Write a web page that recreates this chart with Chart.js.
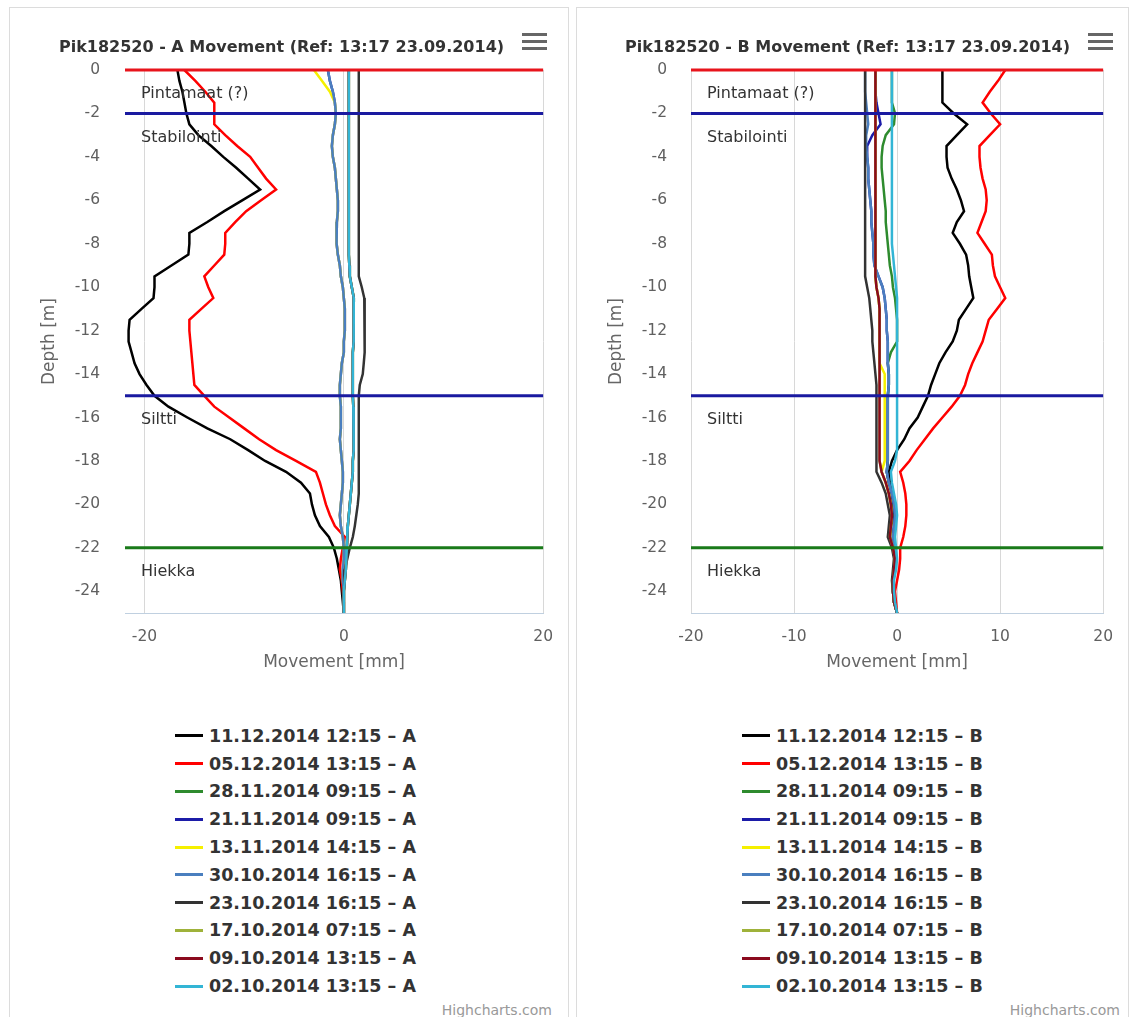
<!DOCTYPE html>
<html>
<head>
<meta charset="utf-8">
<title>Pik182520 Movement</title>
<script src="https://cdn.jsdelivr.net/npm/chart.js@4.4.1/dist/chart.umd.min.js"></script>
<style>
  html, body { margin: 0; padding: 0; background: #fff; }
  body { width: 1134px; height: 1017px; overflow: hidden; position: relative; font-family: 'DejaVu Sans', sans-serif; }
  .panel { position: absolute; top: 7px; height: 1030px; border: 1px solid #dcdcdc; box-sizing: border-box; background: #fff; }
  #panelA { left: 9px; width: 560px; }
  #panelB { left: 576px; width: 553px; }
  .panel canvas { position: absolute; left: 0; top: 0; }
  .menu { position: absolute; top: 25px; left: 512px; width: 25px; }
  .menu span { display: block; height: 3px; background: #666; margin-bottom: 4px; }
  .legend { position: absolute; top: 714px; left: 165px; }
  .legend-item { display: flex; align-items: center; height: 27.8px; }
  .legend-swatch { width: 28px; height: 3px; margin-right: 6px; }
  .legend-text { font-size: 17.5px; font-weight: bold; color: #333; white-space: nowrap; }
  .credits { position: absolute; top: 994px; font-size: 14px; color: #999; }
</style>
</head>
<body>

<div class="panel" id="panelA">
  <canvas id="grafikA" width="558" height="669"></canvas>
  <div class="menu"><span></span><span></span><span></span></div>
  <div class="legend" id="legendA"></div>
  <div class="credits" style="right:16px">Highcharts.com</div>
</div>

<div class="panel" id="panelB">
  <canvas id="grafikB" width="551" height="669"></canvas>
  <div class="menu" style="left:511px"><span></span><span></span><span></span></div>
  <div class="legend" id="legendB"></div>
  <div class="credits" style="right:8px">Highcharts.com</div>
</div>

<script>
// ---------------------------------------------------------------
// Data (depth step 0.5 m)
// ---------------------------------------------------------------
const depthM = [
  0, -0.5, -1, -1.5, -2, -2.5, -3, -3.5, -4, -4.5,
  -5, -5.5, -6, -6.5, -7, -7.5, -8, -8.5, -9, -9.5,
  -10, -10.5, -11, -11.5, -12, -12.5, -13, -13.5, -14, -14.5,
  -15, -15.5, -16, -16.5, -17, -17.5, -18, -18.5, -19, -19.5,
  -20, -20.5, -21, -21.5, -22, -22.5, -23, -23.5, -24, -24.5, -25
];
const depthTicks = [0, -2, -4, -6, -8, -10, -12, -14, -16, -18, -20, -22, -24];
const xTicksA = [-20, 0, 20];
const xTicksB = [-20, -10, 0, 10, 20];

const seriesDates = [
  '11.12.2014 12:15', '05.12.2014 13:15', '28.11.2014 09:15', '21.11.2014 09:15', '13.11.2014 14:15',
  '30.10.2014 16:15', '23.10.2014 16:15', '17.10.2014 07:15', '09.10.2014 13:15', '02.10.2014 13:15'
];

// soil layers (plot lines)
const layerDepths = [0, -2, -15, -22];
const layerNames = ['Pintamaat (?)', 'Stabilointi', 'Siltti', 'Hiekka'];

// ---- Probe A (movement mm) ----
const a1112 = [
  -16.7, -16.5, -16.2, -16.0, -15.8, -15.5, -14.6, -13.3, -12.1, -10.8,
  -9.6, -8.4, -10.2, -12.0, -13.7, -15.5, -15.5, -15.6, -17.3, -19.0,
  -19.0, -19.1, -20.3, -21.5, -21.6, -21.6, -21.3, -21.0, -20.5, -19.8,
  -19.0, -17.6, -15.7, -13.7, -11.4, -9.6, -7.9, -5.8, -4.3, -3.4,
  -3.2, -2.9, -2.4, -1.5, -1.0, -0.7, -0.5, -0.3, -0.2, -0.1, 0.0
];
const a0512 = [
  -16.0, -14.9, -13.9, -13.0, -13.0, -13.0, -11.9, -10.7, -9.4, -8.6,
  -7.8, -6.8, -8.3, -9.8, -10.9, -11.9, -11.9, -12.0, -13.0, -14.0,
  -13.6, -13.1, -14.3, -15.5, -15.5, -15.4, -15.3, -15.2, -15.1, -15.0,
  -14.0, -13.0, -11.5, -10.0, -8.5, -6.8, -4.8, -2.8, -2.4, -2.1,
  -1.8, -1.4, -0.9, 0.1, -0.1, -0.3, -0.4, -0.2, -0.1, 0.0, 0.0
];
const a2811 = [
  0.5, 0.5, 0.5, 0.5, 0.5, 0.5, 0.5, 0.5, 0.5, 0.5,
  0.5, 0.5, 0.5, 0.5, 0.5, 0.5, 0.5, 0.5, 0.55, 0.6,
  0.8, 1.0, 1.0, 1.0, 1.0, 0.95, 0.9, 0.9, 0.9, 0.9,
  0.9, 0.95, 1.0, 1.0, 1.0, 0.95, 0.9, 0.9, 0.8, 0.7,
  0.6, 0.5, 0.4, 0.35, 0.3, 0.25, 0.2, 0.1, 0.0, 0.0, 0.0
];
const a2111 = [
  -1.6, -1.4, -1.1, -0.9, -0.8, -0.9, -1.1, -1.2, -1.1, -0.9,
  -0.8, -0.7, -0.6, -0.6, -0.7, -0.75, -0.7, -0.6, -0.4, -0.3,
  -0.1, 0.0, 0.1, 0.1, 0.1, 0.0, 0.0, -0.2, -0.3, -0.4,
  -0.4, -0.3, -0.3, -0.3, -0.4, -0.3, -0.2, -0.1, -0.1, -0.2,
  -0.3, -0.4, -0.3, -0.1, 0.0, 0.0, -0.1, -0.1, 0.0, 0.0, 0.0
];
const a1311 = [
  -3.0, -2.2, -1.4, -0.9, -0.8, -0.9, -1.1, -1.2, -1.1, -0.9,
  -0.8, -0.7, -0.6, -0.6, -0.7, -0.75, -0.7, -0.6, -0.4, -0.3,
  -0.1, 0.0, 0.1, 0.1, 0.1, 0.0, 0.0, -0.2, -0.3, -0.4,
  -0.4, -0.3, -0.3, -0.3, -0.4, -0.3, -0.2, -0.1, -0.1, -0.2,
  -0.3, -0.4, -0.3, -0.1, 0.0, 0.0, -0.1, -0.1, 0.0, 0.0, 0.0
];
const a3010 = [
  -1.6, -1.4, -1.1, -0.9, -0.8, -0.9, -1.1, -1.2, -1.1, -0.9,
  -0.8, -0.7, -0.6, -0.6, -0.7, -0.75, -0.7, -0.6, -0.4, -0.3,
  -0.1, 0.0, 0.1, 0.1, 0.1, 0.0, 0.0, -0.2, -0.3, -0.4,
  -0.4, -0.3, -0.3, -0.3, -0.4, -0.3, -0.2, -0.1, -0.1, -0.2,
  -0.3, -0.4, -0.3, -0.1, 0.0, 0.0, -0.1, -0.1, 0.0, 0.0, 0.0
];
const a2310 = [
  1.5, 1.5, 1.5, 1.5, 1.5, 1.5, 1.5, 1.5, 1.5, 1.5,
  1.5, 1.5, 1.5, 1.5, 1.5, 1.5, 1.5, 1.5, 1.5, 1.5,
  1.8, 2.05, 2.1, 2.1, 2.1, 2.1, 2.05, 2.0, 1.9, 1.6,
  1.5, 1.5, 1.5, 1.5, 1.5, 1.5, 1.5, 1.5, 1.5, 1.5,
  1.4, 1.25, 1.1, 0.9, 0.6, 0.35, 0.1, 0.05, 0.0, 0.0, 0.0
];
const a1710 = [
  0.5, 0.5, 0.5, 0.5, 0.5, 0.5, 0.5, 0.5, 0.5, 0.5,
  0.5, 0.5, 0.5, 0.5, 0.5, 0.5, 0.5, 0.5, 0.55, 0.6,
  0.8, 1.0, 1.0, 1.0, 1.0, 0.95, 0.9, 0.9, 0.9, 0.9,
  0.9, 0.95, 1.0, 1.0, 1.0, 0.95, 0.9, 0.9, 0.8, 0.7,
  0.6, 0.5, 0.4, 0.35, 0.3, 0.25, 0.2, 0.1, 0.0, 0.0, 0.0
];
const a0910 = [
  0.5, 0.5, 0.5, 0.5, 0.5, 0.5, 0.5, 0.5, 0.5, 0.5,
  0.5, 0.5, 0.5, 0.5, 0.5, 0.5, 0.5, 0.5, 0.55, 0.6,
  0.8, 1.0, 1.0, 1.0, 1.0, 0.95, 0.9, 0.9, 0.9, 0.9,
  0.9, 0.95, 1.0, 1.0, 1.0, 0.95, 0.9, 0.9, 0.8, 0.7,
  0.6, 0.5, 0.4, 0.35, 0.3, 0.25, 0.2, 0.1, 0.0, 0.0, 0.0
];
const a0210 = [
  0.5, 0.5, 0.5, 0.5, 0.5, 0.5, 0.5, 0.5, 0.5, 0.5,
  0.5, 0.5, 0.5, 0.5, 0.5, 0.5, 0.5, 0.5, 0.55, 0.6,
  0.8, 1.0, 1.0, 1.0, 1.0, 0.95, 0.9, 0.9, 0.9, 0.9,
  0.9, 0.95, 1.0, 1.0, 1.0, 0.95, 0.9, 0.9, 0.8, 0.7,
  0.6, 0.5, 0.4, 0.35, 0.3, 0.25, 0.2, 0.1, 0.0, 0.0, 0.0
];

// ---- Probe B (movement mm) ----
const b1112 = [
  4.4, 4.4, 4.4, 4.4, 5.5, 6.8, 5.8, 4.8, 4.8, 4.9,
  5.3, 5.8, 6.2, 6.5, 5.8, 5.4, 6.1, 6.7, 6.9, 7.0,
  7.2, 7.4, 6.7, 6.0, 5.8, 5.4, 4.7, 4.1, 3.7, 3.3,
  3.0, 2.5, 2.0, 1.2, 0.7, 0.0, -0.5, -0.8, -0.7, -0.5,
  -0.4, -0.3, -0.6, -0.7, -0.3, -0.2, -0.3, -0.4, -0.4, -0.3, 0.0
];
const b0512 = [
  10.5, 9.8, 9.0, 8.3, 9.1, 10.0, 9.0, 8.0, 8.0, 8.1,
  8.3, 8.6, 8.7, 8.6, 8.2, 7.8, 8.5, 9.2, 9.3, 9.5,
  10.0, 10.5, 9.7, 8.9, 8.6, 8.3, 7.8, 7.3, 6.9, 6.6,
  6.1, 5.3, 4.4, 3.5, 2.7, 1.9, 1.2, 0.3, 0.6, 0.8,
  0.9, 0.9, 0.8, 0.6, 0.3, 0.3, 0.2, 0.0, -0.2, -0.1, 0.0
];
const b2811 = [
  -0.5, -0.5, -0.5, -0.5, -0.2, -0.3, -1.1, -1.4, -1.5, -1.5,
  -1.4, -1.3, -1.2, -1.1, -1.1, -1.0, -0.9, -0.8, -0.7, -0.5,
  -0.4, -0.2, -0.1, 0.0, 0.0, 0.0, -0.6, -0.9, -0.8, -0.8,
  -0.9, -0.9, -0.9, -0.9, -0.9, -0.9, -0.9, -1.0, -0.8, -0.5,
  -0.3, -0.2, -0.3, -0.4, -0.2, -0.1, -0.2, -0.4, -0.4, -0.3, 0.0
];
const b2111 = [
  -2.1, -2.1, -2.1, -2.0, -1.8, -1.6, -2.4, -2.9, -2.9, -2.8,
  -2.8, -2.7, -2.6, -2.5, -2.5, -2.4, -2.3, -2.3, -2.2, -1.8,
  -1.4, -1.2, -1.1, -1.0, -1.0, -0.9, -0.9, -0.9, -0.8, -0.8,
  -0.9, -0.9, -0.9, -0.9, -0.9, -0.9, -0.9, -1.0, -0.8, -0.5,
  -0.3, -0.2, -0.3, -0.4, -0.2, -0.1, -0.2, -0.4, -0.4, -0.3, 0.0
];
const b1311 = [
  -2.1, -2.1, -2.1, -2.1, -2.1, -2.1, -2.1, -2.1, -2.1, -2.1,
  -2.1, -2.1, -2.1, -2.1, -2.1, -2.1, -2.1, -2.1, -2.1, -2.1,
  -2.0, -1.8, -1.7, -1.7, -1.7, -1.7, -1.7, -1.7, -1.2, -1.2,
  -1.2, -1.2, -1.2, -1.2, -1.2, -1.2, -1.2, -1.5, -1.1, -0.8,
  -0.6, -0.5, -0.6, -0.7, -0.4, -0.2, -0.3, -0.4, -0.4, -0.3, 0.0
];
const b3010 = [
  -3.1, -3.1, -3.1, -3.0, -2.9, -2.8, -3.0, -3.0, -2.9, -2.8,
  -2.8, -2.7, -2.6, -2.5, -2.5, -2.4, -2.3, -2.3, -2.2, -1.8,
  -1.4, -1.2, -1.1, -1.0, -1.0, -0.9, -0.9, -0.9, -0.8, -0.8,
  -0.9, -0.9, -0.9, -0.9, -0.9, -0.9, -0.9, -1.0, -0.8, -0.5,
  -0.3, -0.2, -0.3, -0.4, -0.2, -0.1, -0.2, -0.4, -0.4, -0.3, 0.0
];
const b2310 = [
  -3.1, -3.1, -3.1, -3.1, -3.1, -3.1, -3.1, -3.1, -3.1, -3.1,
  -3.1, -3.1, -3.1, -3.1, -3.1, -3.1, -3.1, -3.1, -3.1, -3.1,
  -2.9, -2.7, -2.6, -2.5, -2.4, -2.4, -2.3, -2.2, -2.1, -2.0,
  -2.0, -2.0, -2.0, -2.0, -2.0, -2.0, -2.0, -2.0, -1.5, -1.1,
  -0.9, -0.7, -0.8, -0.9, -0.5, -0.3, -0.4, -0.5, -0.4, -0.3, 0.0
];
const b1710 = [
  -2.1, -2.1, -2.1, -2.1, -2.1, -2.1, -2.1, -2.1, -2.1, -2.1,
  -2.1, -2.1, -2.1, -2.1, -2.1, -2.1, -2.1, -2.1, -2.1, -2.1,
  -2.0, -1.8, -1.7, -1.7, -1.7, -1.7, -1.7, -1.7, -1.7, -1.7,
  -1.7, -1.7, -1.7, -1.7, -1.7, -1.7, -1.7, -1.5, -1.1, -0.8,
  -0.6, -0.5, -0.6, -0.7, -0.4, -0.2, -0.3, -0.4, -0.4, -0.3, 0.0
];
const b0910 = [
  -2.1, -2.1, -2.1, -2.1, -2.1, -2.1, -2.1, -2.1, -2.1, -2.1,
  -2.1, -2.1, -2.1, -2.1, -2.1, -2.1, -2.1, -2.1, -2.1, -2.1,
  -2.0, -1.8, -1.7, -1.7, -1.7, -1.7, -1.7, -1.7, -1.7, -1.7,
  -1.7, -1.7, -1.7, -1.7, -1.7, -1.7, -1.7, -1.5, -1.1, -0.8,
  -0.6, -0.5, -0.6, -0.7, -0.4, -0.2, -0.3, -0.4, -0.4, -0.3, 0.0
];
const b0210 = [
  -0.5, -0.5, -0.5, -0.5, -0.5, -0.5, -0.5, -0.5, -0.5, -0.5,
  -0.5, -0.5, -0.5, -0.5, -0.5, -0.5, -0.5, -0.4, -0.3, -0.2,
  -0.1, 0.0, 0.0, 0.0, 0.0, 0.0, 0.0, 0.0, 0.0, 0.0,
  0.0, 0.0, 0.0, 0.0, 0.0, 0.0, -0.2, -0.6, -0.5, -0.3,
  -0.1, 0.0, -0.1, -0.2, -0.1, 0.0, -0.1, -0.3, -0.3, -0.2, 0.0
];

// ---------------------------------------------------------------
// Styles
// ---------------------------------------------------------------
const FONT = "'DejaVu Sans', sans-serif";
const seriesColors = [
  '#000000', '#ff0000', '#2e8b2e', '#1c1ca8', '#f5f000',
  '#4a7fbf', '#333333', '#9fb23a', '#8b0a1e', '#33b5d5'
];
const layerColors = ['#e8141c', '#1a1aa0', '#1a1aa0', '#1a7a1a'];

// Plot lines for soil layers, drawn over the series like in Highcharts
const plotLinesPlugin = {
  id: 'plotLines',
  afterDatasetsDraw(chart) {
    const { ctx, chartArea, scales } = chart;
    ctx.save();
    layerDepths.forEach((depth, i) => {
      const y = scales.y.getPixelForValue(depth);
      ctx.beginPath();
      ctx.strokeStyle = layerColors[i];
      ctx.lineWidth = 3;
      ctx.moveTo(chartArea.left, y);
      ctx.lineTo(chartArea.right, y);
      ctx.stroke();
    });
    ctx.font = '16px ' + FONT;
    ctx.fillStyle = '#333';
    ctx.textBaseline = 'middle';
    ctx.textAlign = 'left';
    layerDepths.forEach((depth, i) => {
      const y = scales.y.getPixelForValue(depth);
      ctx.fillText(layerNames[i], chartArea.left + 16, y + 24);
    });
    ctx.restore();
  }
};

function renderMovementChart(canvasId, legendId, cfg) {
  const canvas = document.getElementById(canvasId);
  const datasets = cfg.series.map((values, i) => ({
    label: seriesDates[i] + ' – ' + cfg.tag,
    data: depthM.map((d, k) => ({ x: values[k], y: d })),
    borderColor: seriesColors[i],
    backgroundColor: seriesColors[i],
    borderWidth: 2.5,
    pointRadius: 0,
    pointHoverRadius: 0,
    showLine: true,
    fill: false,
    tension: 0,
    order: -i // later series on top, like Highcharts
  }));

  const chart = new Chart(canvas, {
    type: 'scatter',
    data: { datasets },
    plugins: [plotLinesPlugin],
    options: {
      responsive: false,
      animation: false,
      events: [],
      layout: { padding: { left: 0, right: cfg.padRight, top: 0, bottom: 0 } },
      plugins: {
        legend: { display: false },
        tooltip: { enabled: false },
        title: {
          display: true,
          text: 'Pik182520 - ' + cfg.tag + ' Movement (Ref: 13:17 23.09.2014)',
          color: '#333',
          font: { family: FONT, size: 16, weight: 'bold' },
          padding: { top: 30, bottom: 12.8 }
        }
      },
      scales: {
        x: {
          type: 'linear',
          bounds: 'data',
          min: cfg.xMin,
          max: 20,
          afterBuildTicks: axis => { axis.ticks = cfg.xTicks.map(v => ({ value: v })); },
          afterFit: axis => { axis.height = 64; },
          grid: { color: '#d8d8d8', lineWidth: 1, drawTicks: false },
          border: { display: true, color: '#c0d0e0', width: 1 },
          ticks: { color: '#606060', font: { family: FONT, size: 15.5 }, padding: 15, maxRotation: 0, autoSkip: false },
          title: { display: true, text: 'Movement [mm]', color: '#666', font: { family: FONT, size: 17 }, padding: { top: 0, bottom: 4 } }
        },
        y: {
          type: 'linear',
          bounds: 'data',
          min: -25,
          max: 0,
          afterBuildTicks: axis => { axis.ticks = depthTicks.map(v => ({ value: v })); },
          afterFit: axis => { axis.width = cfg.yAxisWidth; },
          grid: { display: false, drawTicks: false },
          border: { display: false },
          ticks: { color: '#606060', font: { family: FONT, size: 15.5 }, padding: cfg.yTickPad, autoSkip: false },
          title: { display: true, text: 'Depth [m]', color: '#666', font: { family: FONT, size: 17 }, padding: { top: 29, bottom: 0 } }
        }
      }
    }
  });

  // Vertical legend below the chart (HTML)
  const legendEl = document.getElementById(legendId);
  chart.data.datasets.forEach(ds => {
    const item = document.createElement('div');
    item.className = 'legend-item';
    const sw = document.createElement('span');
    sw.className = 'legend-swatch';
    sw.style.background = ds.borderColor;
    const txt = document.createElement('span');
    txt.className = 'legend-text';
    txt.textContent = ds.label;
    item.appendChild(sw);
    item.appendChild(txt);
    legendEl.appendChild(item);
  });
}

renderMovementChart('grafikA', 'legendA', {
  tag: 'A',
  series: [a1112, a0512, a2811, a2111, a1311, a3010, a2310, a1710, a0910, a0210],
  xMin: -21.96,
  xTicks: xTicksA,
  yAxisWidth: 115,
  yTickPad: 25,
  padRight: 15
});

renderMovementChart('grafikB', 'legendB', {
  tag: 'B',
  series: [b1112, b0512, b2811, b2111, b1311, b3010, b2310, b1710, b0910, b0210],
  xMin: -20,
  xTicks: xTicksB,
  yAxisWidth: 114,
  yTickPad: 24,
  padRight: 10
});
</script>
</body>
</html>
